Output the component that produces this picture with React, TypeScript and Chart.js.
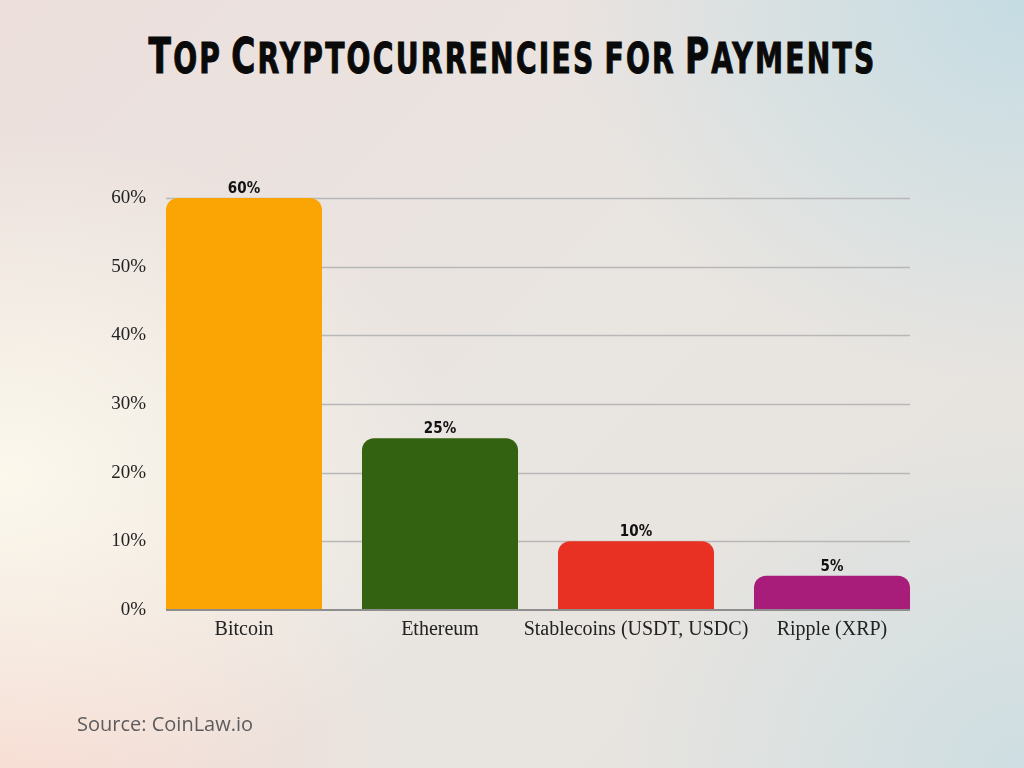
import { useEffect, useRef } from "react";
import { Chart, registerables } from "chart.js";

const categories = ["Bitcoin", "Ethereum", "Stablecoins (USDT, USDC)", "Ripple (XRP)"];
const shares = [60, 25, 10, 5];
const barColors = ["#FBA504", "#336311", "#E83123", "#A91D7A"];
const yTicks = [0, 10, 20, 30, 40, 50, 60];

const titleWords = ["Top", "Cryptocurrencies", "for", "Payments"];

const gridPlugin = {
  id: "customGrid",
  beforeDatasetsDraw(chart: any) {
    const { ctx } = chart;
    const y = chart.scales.y;
    const bars = chart.getDatasetMeta(0).data;
    const first = bars[0];
    const last = bars[bars.length - 1];
    const left = first.x - first.width / 2;
    const right = last.x + last.width / 2;
    ctx.save();
    y.ticks.forEach((t: any) => {
      if (t.value === 0) return;
      const py = Math.round(y.getPixelForValue(t.value)) + 0.5;
      ctx.strokeStyle = "#b8b8b8";
      ctx.lineWidth = 1.5;
      ctx.beginPath();
      ctx.moveTo(left, py);
      ctx.lineTo(right, py);
      ctx.stroke();
    });
    ctx.restore();
  },
  afterDatasetsDraw(chart: any) {
    const { ctx } = chart;
    const y = chart.scales.y;
    const bars = chart.getDatasetMeta(0).data;
    const first = bars[0];
    const last = bars[bars.length - 1];
    const py = y.getPixelForValue(0);
    ctx.save();
    ctx.strokeStyle = "#8e8e8e";
    ctx.lineWidth = 2;
    ctx.beginPath();
    ctx.moveTo(first.x - first.width / 2, py);
    ctx.lineTo(last.x + last.width / 2, py);
    ctx.stroke();

    // value labels above the bars
    ctx.fillStyle = "#111111";
    ctx.font = "bold 15px 'DejaVu Sans Condensed', 'DejaVu Sans', sans-serif";
    ctx.textAlign = "center";
    ctx.textBaseline = "alphabetic";
    bars.forEach((bar: any, i: number) => {
      ctx.fillText(shares[i] + "%", bar.x, bar.y - 5);
    });
    ctx.restore();
  },
};

const ChartCanvas = () => {
  const canvasRef = useRef<HTMLCanvasElement>(null);

  useEffect(() => {
    Chart.register(...registerables);
    const ctx = canvasRef.current!.getContext("2d")!;

    const chart = new Chart(ctx, {
      type: "bar",
      data: {
        labels: categories,
        datasets: [
          {
            data: shares,
            backgroundColor: barColors,
            borderRadius: 12,
            borderSkipped: "bottom",
            barPercentage: 0.796,
            categoryPercentage: 1,
          },
        ],
      },
      options: {
        responsive: false,
        animation: false,
        layout: { padding: { left: 0, right: 94, top: 198, bottom: 98 } },
        plugins: {
          legend: { display: false },
          tooltip: { enabled: false },
        },
        scales: {
          x: {
            offset: true,
            grid: { display: false, drawTicks: false },
            border: { display: false },
            ticks: {
              color: "#222222",
              padding: 8,
              maxRotation: 0,
              autoSkip: false,
              font: { family: "'Liberation Serif', serif", size: 20 },
            },
            afterFit: (scale: any) => {
              scale.height = 60;
            },
          },
          y: {
            min: 0,
            max: 60,
            afterBuildTicks: (scale: any) => {
              scale.ticks = yTicks.map((v) => ({ value: v }));
            },
            grid: { display: false, drawTicks: false },
            border: { display: false },
            ticks: {
              color: "#222222",
              padding: 0,
              font: { family: "'Liberation Serif', serif", size: 19 },
              callback: (v: any) => v + "%",
            },
            afterFit: (scale: any) => {
              scale.width = 146;
            },
          },
        },
      },
      plugins: [gridPlugin],
    });

    return () => {
      chart.destroy();
    };
  }, []);

  return (
    <canvas
      ref={canvasRef}
      width={1024}
      height={768}
      style={{ position: "absolute", left: 0, top: 0, width: 1024, height: 768 }}
    />
  );
};

export default function App() {
  const titleRef = useRef<HTMLDivElement>(null);

  useEffect(() => {
    document.body.style.margin = "0";
    const el = titleRef.current;
    if (el) {
      const w = el.scrollWidth;
      el.style.transform = `scaleX(${728 / w})`;
    }
  }, []);

  return (
    <div
      style={{
        position: "relative",
        width: 1024,
        height: 768,
        overflow: "hidden",
        background: [
          "radial-gradient(ellipse 45% 45% at 0% 62%, rgba(252,248,236,1) 0%, rgba(252,248,236,0) 100%)",
          "radial-gradient(ellipse 45% 50% at 100% 0%, rgba(197,220,227,1) 0%, rgba(197,220,227,0) 100%)",
          "radial-gradient(ellipse 40% 45% at 100% 100%, rgba(206,222,226,1) 0%, rgba(206,222,226,0) 100%)",
          "radial-gradient(ellipse 40% 40% at 0% 100%, rgba(247,217,208,1) 0%, rgba(247,217,208,0) 100%)",
          "linear-gradient(135deg, #ecdfdc 0%, #e9e5e1 50%, #e6e3df 100%)",
        ].join(", "),
      }}
    >
      <div
        style={{
          position: "absolute",
          top: 32,
          left: 0,
          width: 1024,
          display: "flex",
          justifyContent: "center",
        }}
      >
        <div
          ref={titleRef}
          style={{
            whiteSpace: "nowrap",
            fontFamily: "'DejaVu Sans Condensed', 'DejaVu Sans', sans-serif",
            fontWeight: 900,
            color: "#0a0a0a",
            lineHeight: "49px",
            letterSpacing: 3,
            wordSpacing: 4,
            WebkitTextStroke: "1px #0a0a0a",
            transformOrigin: "center",
          }}
        >
          {titleWords.map((w, i) => (
            <span key={i}>
              {i > 0 ? " " : ""}
              {i === 2 ? (
                <span style={{ fontSize: 42, textTransform: "uppercase" }}>{w}</span>
              ) : (
                <>
                  <span style={{ fontSize: 49 }}>{w[0]}</span>
                  <span style={{ fontSize: 42, textTransform: "uppercase" }}>{w.slice(1)}</span>
                </>
              )}
            </span>
          ))}
        </div>
      </div>
      <ChartCanvas />
      <div
        style={{
          position: "absolute",
          left: 77,
          top: 714,
          fontFamily: "'Open Sans', sans-serif",
          fontSize: 20,
          lineHeight: "20px",
          color: "#5c5c5c",
          whiteSpace: "nowrap",
        }}
      >
        Source: CoinLaw.io
      </div>
    </div>
  );
}
